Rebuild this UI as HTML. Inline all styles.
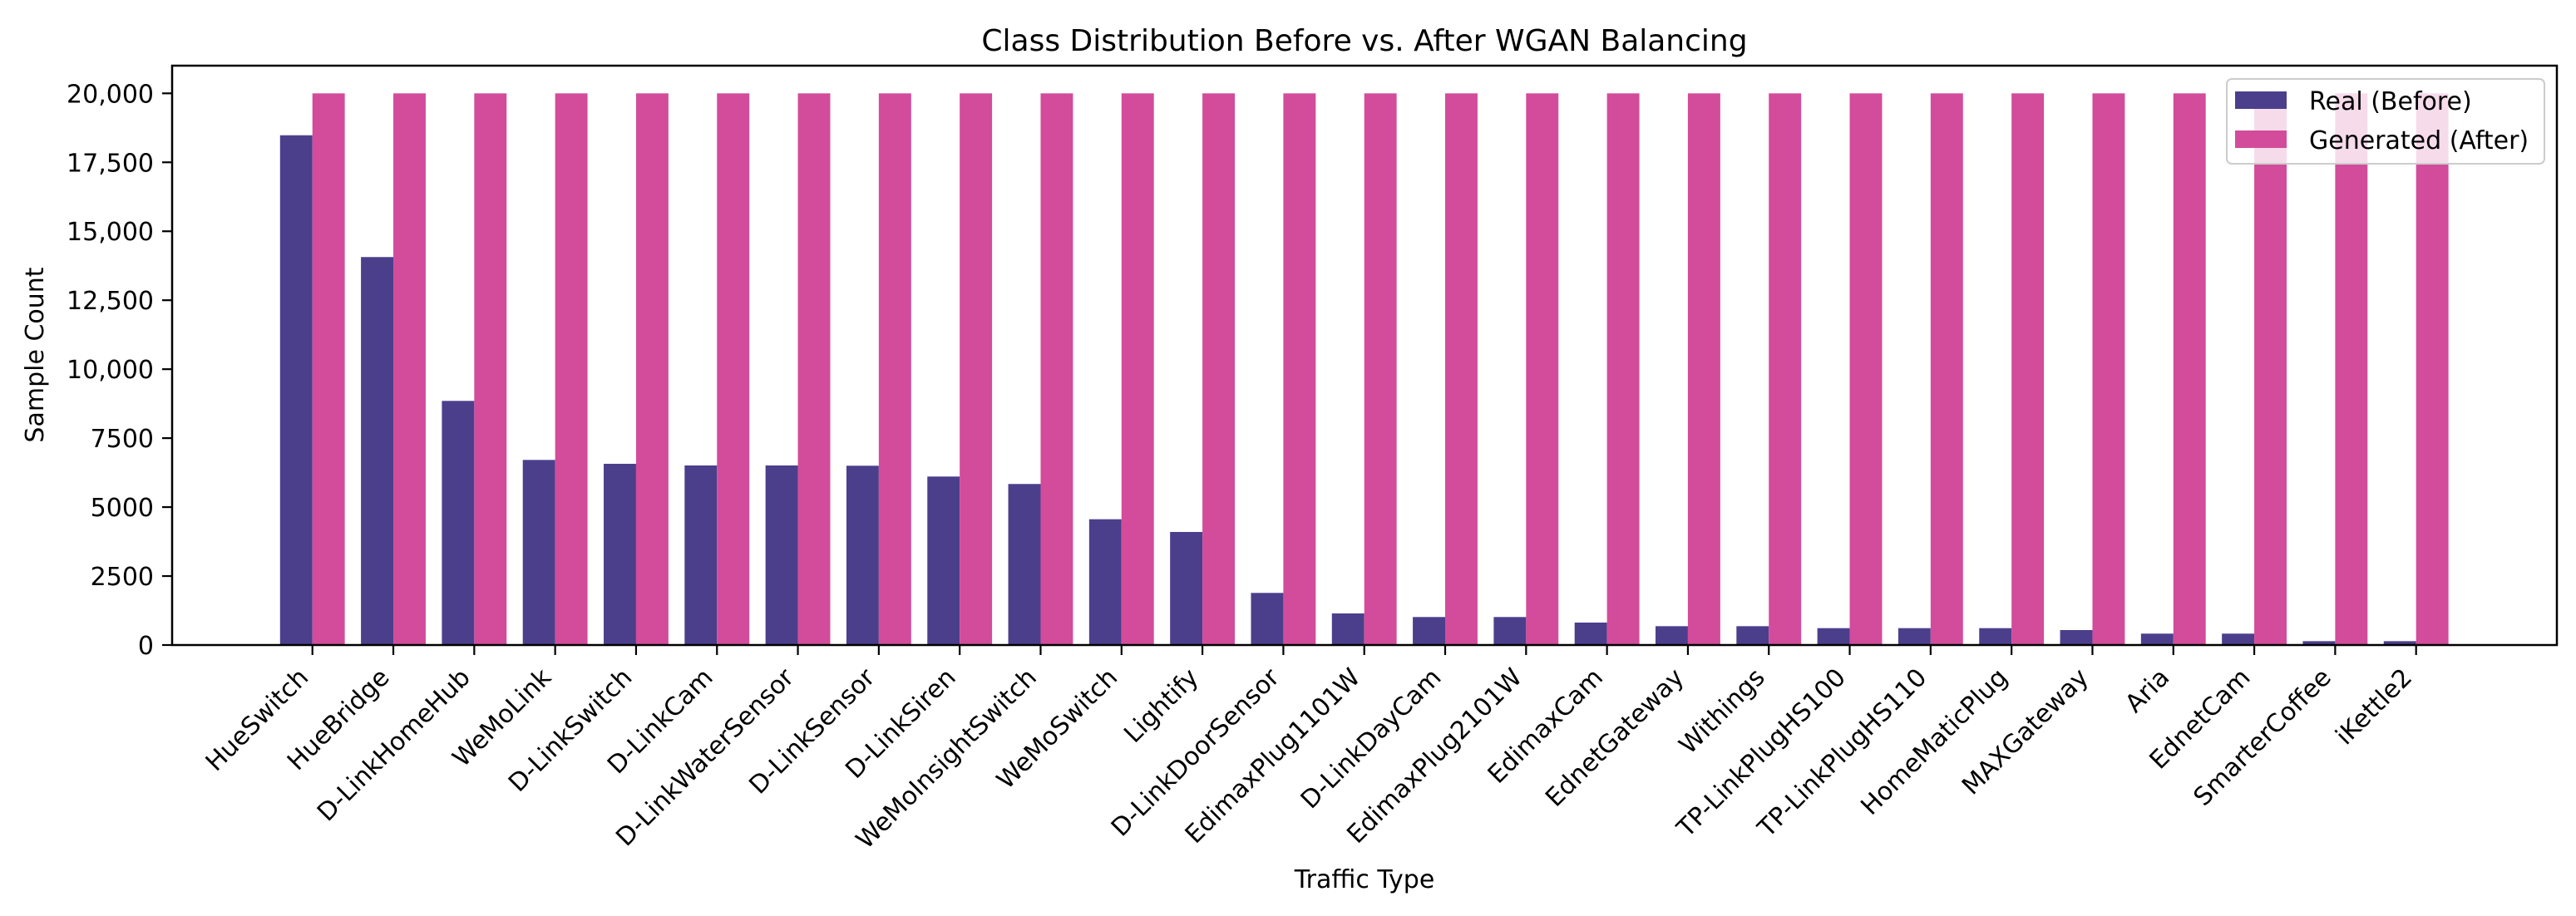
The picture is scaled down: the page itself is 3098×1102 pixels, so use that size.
<!DOCTYPE html>
<html><head><meta charset="utf-8"><style>
html,body{margin:0;padding:0;background:#fff;}
svg text{font-family:"DejaVu Sans","Liberation Sans",sans-serif;fill:#000;}
</style></head><body>
<svg id="chart" width="3098" height="1097" viewBox="0 0 3098 1097" xmlns="http://www.w3.org/2000/svg">
<rect x="0" y="0" width="3098" height="1097" fill="#fff"/>
<text x="1641" y="61" font-size="36" text-anchor="middle">Class Distribution Before vs. After WGAN Balancing</text>
<g id="bars"></g>
<g id="axes"></g>
<rect x="207" y="79" width="2868" height="697" fill="none" stroke="#000" stroke-width="2.5"/>
<text transform="translate(52,427) rotate(-90)" font-size="30" text-anchor="middle">Sample Count</text>
<text x="1641" y="1068" font-size="30" text-anchor="middle">Traffic Type</text>
<g>
<rect x="2678" y="95" width="382" height="102" rx="6" fill="#fff" fill-opacity="0.8" stroke="#ccc" stroke-width="2"/>
<rect x="2688" y="110" width="62" height="21" fill="#4b3f8c"/>
<text x="2777" y="132" font-size="30">Real (Before)</text>
<rect x="2688" y="157" width="62" height="21" fill="#d24c9b"/>
<text x="2777" y="179" font-size="30">Generated (After)</text>
</g>
</svg>
<script>
const categories = ["HueSwitch","HueBridge","D-LinkHomeHub","WeMoLink","D-LinkSwitch","D-LinkCam","D-LinkWaterSensor","D-LinkSensor","D-LinkSiren","WeMoInsightSwitch","WeMoSwitch","Lightify","D-LinkDoorSensor","EdimaxPlug1101W","D-LinkDayCam","EdimaxPlug2101W","EdimaxCam","EdnetGateway","Withings","TP-LinkPlugHS100","TP-LinkPlugHS110","HomeMaticPlug","MAXGateway","Aria","EdnetCam","SmarterCoffee","iKettle2"];
const realBefore = [18480,14065,8850,6710,6570,6510,6510,6500,6108,5838,4560,4099,1889,1145,1015,1015,814,683,683,612,612,612,543,413,413,140,140];
const generatedAfter = [20000,20000,20000,20000,20000,20000,20000,20000,20000,20000,20000,20000,20000,20000,20000,20000,20000,20000,20000,20000,20000,20000,20000,20000,20000,20000,20000];
const yTicks = [0,2500,5000,7500,10000,12500,15000,17500,20000];
const yTickLabels = ["0","2500","5000","7500","10,000","12,500","15,000","17,500","20,000"];

const NS = "http://www.w3.org/2000/svg";
const L = 207, R = 3075, T = 79, B = 776;
const xMin = -1.734, xMax = 27.74;
const yTop = 20000 * (B - T) / (B - 112.3);
function xs(v){ return L + (v - xMin) / (xMax - xMin) * (R - L); }
function ys(v){ return B - v / yTop * (B - T); }
function mk(tag, attrs, parent){ const e = document.createElementNS(NS, tag); for (const k in attrs) e.setAttribute(k, attrs[k]); parent.appendChild(e); return e; }

const bars = document.getElementById('bars');
const axes = document.getElementById('axes');
const w = 0.4;
categories.forEach((c, i) => {
  const r1 = mk('rect', {x: xs(i - w), y: ys(realBefore[i]), width: xs(i) - xs(i - w), height: B - ys(realBefore[i]), fill: '#4b3f8c'}, bars);
  
  
  const r2 = mk('rect', {x: xs(i), y: ys(generatedAfter[i]), width: xs(i + w) - xs(i), height: B - ys(generatedAfter[i]), fill: '#d24c9b'}, bars);
  
  
  const tk = mk('line', {x1: xs(i), x2: xs(i), y1: B, y2: B + 12, stroke: '#000', 'stroke-width': 2.2}, axes);
  
  
  const t = mk('text', {transform: 'translate(' + (xs(i) - 10) + ',' + (B + 34) + ') rotate(-45)', 'font-size': 30, 'text-anchor': 'end', 'dominant-baseline': 'central'}, axes);
  t.textContent = c;
  
  
});
yTicks.forEach((v, i) => {
  const tk = mk('line', {x1: L - 12, x2: L, y1: ys(v), y2: ys(v), stroke: '#000', 'stroke-width': 2.2}, axes);
  
  
  const t = mk('text', {x: L - 22, y: ys(v) + 11, 'font-size': 30, 'text-anchor': 'end'}, axes);
  t.textContent = yTickLabels[i];
  
  
});
</script>
</body></html>
